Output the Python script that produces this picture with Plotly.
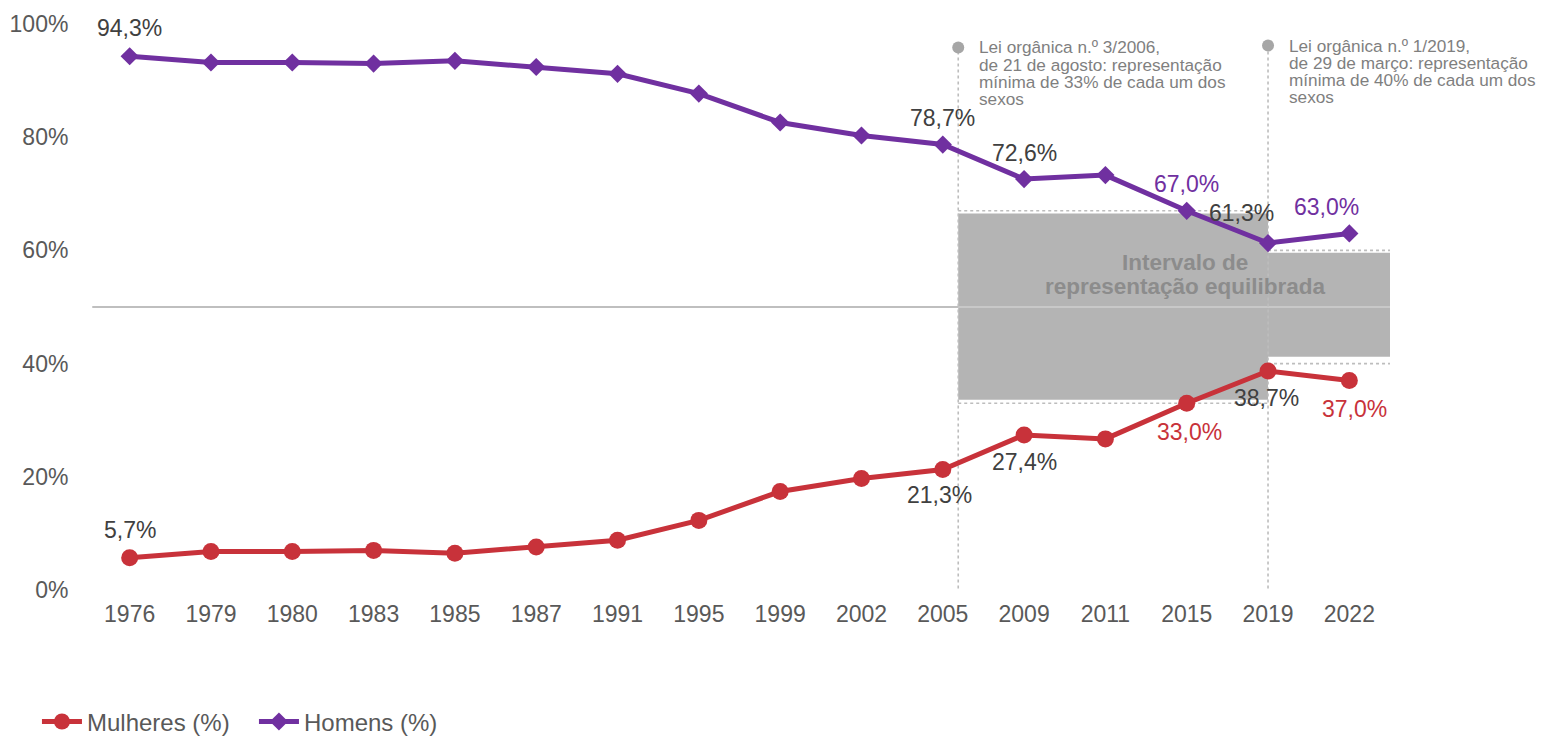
import plotly.graph_objects as go

# ---------------- data ----------------
years = ["1976", "1979", "1980", "1983", "1985", "1987", "1991", "1995",
         "1999", "2002", "2005", "2009", "2011", "2015", "2019", "2022"]
mulheres = [5.7, 6.8, 6.8, 7.0, 6.5, 7.6, 8.8, 12.3,
            17.4, 19.7, 21.3, 27.4, 26.7, 33.0, 38.7, 37.0]
homens = [94.3, 93.2, 93.2, 93.0, 93.5, 92.4, 91.2, 87.7,
          82.6, 80.3, 78.7, 72.6, 73.3, 67.0, 61.3, 63.0]

# labelled points (category index) and style of their labels (dx, dy in px, coloured?)
homens_labels = {0: (0, 28, False), 10: (0, 27, False), 11: (0, 26, False),
                 13: (0, 27, True), 14: (-27, 30, False), 15: (-23, 26, True)}
mulheres_labels = {0: (0, 28, False), 10: (-3, -26, False), 11: (0, -27, False),
                   13: (3, -29, True), 14: (-2, -27, False), 15: (5, -28, True)}

law_positions = [10.19, 14.0]          # category-index positions of the two laws
law_dot_y = [95.85, 96.2]
law_texts = [
    ["Lei orgânica n.º 3/2006,", "de 21 de agosto: representação",
     "mínima de 33% de cada um dos", "sexos"],
    ["Lei orgânica n.º 1/2019,", "de 29 de março: representação",
     "mínima de 40% de cada um dos", "sexos"],
]
# balanced-representation intervals: (x0, x1, low, high)
intervals = [(10.19, 14.0, 33, 67), (14.0, 15.5, 40, 60)]

RED = "#C8323A"
PURPLE = "#7030A0"
DARK = "#404040"
TICK = "#595959"
FONT = "Liberation Sans, Arial, Helvetica, sans-serif"

fig = go.Figure()
fig.add_trace(go.Scatter(
    x=years, y=mulheres, name="Mulheres (%)", mode="lines+markers",
    line=dict(color=RED, width=5), marker=dict(symbol="circle", size=17, color=RED),
    cliponaxis=False))
fig.add_trace(go.Scatter(
    x=years, y=homens, name="Homens (%)", mode="lines+markers",
    line=dict(color=PURPLE, width=5), marker=dict(symbol="diamond", size=14, color=PURPLE),
    cliponaxis=False))

shapes = []
# 50% line left of the interval box
shapes.append(dict(type="line", xref="x", yref="y", x0=-0.46, x1=intervals[0][0], y0=50, y1=50,
                   line=dict(color="#BFBFBF", width=2), layer="below"))
# grey boxes (slightly inset inside the dashed limits)
box_pads = [(0.6, 0.5), (1.2, 0.4)]
for (x0, x1, lo, hi), (plo, phi) in zip(intervals, box_pads):
    shapes.append(dict(type="rect", xref="x", yref="y", x0=x0, x1=x1,
                       y0=lo + plo, y1=hi - phi,
                       fillcolor="#B4B4B4", line=dict(width=0), layer="below"))
    for yv in (lo, hi):
        shapes.append(dict(type="line", xref="x", yref="y", x0=x0, x1=x1 + (0.03 if x1 > 15 else 0),
                           y0=yv, y1=yv, line=dict(color="#BDBDBD", width=1.6, dash="dot"),
                           layer="below"))
# lighter 50% line inside the box
shapes.append(dict(type="line", xref="x", yref="y", x0=intervals[0][0], x1=15.5, y0=50, y1=50,
                   line=dict(color="#CFCFCF", width=1.5), layer="below"))
# vertical law markers
for xp, yd in zip(law_positions, law_dot_y):
    shapes.append(dict(type="line", xref="x", yref="y", x0=xp, x1=xp, y0=-0.8, y1=yd,
                       line=dict(color="#BDBDBD", width=1.6, dash="dot"), layer="below"))
    shapes.append(dict(type="circle", xref="x", yref="y", xsizemode="pixel", ysizemode="pixel",
                       xanchor=xp, yanchor=yd, x0=-6, x1=6, y0=-6, y1=6,
                       fillcolor="#A6A6A6", line=dict(width=0), layer="above"))

annotations = []
# data labels
for series, labels, col in ((homens, homens_labels, PURPLE), (mulheres, mulheres_labels, RED)):
    for i, (dx, dy, coloured) in labels.items():
        v = series[i]
        annotations.append(dict(
            x=i, y=v, xref="x", yref="y", text=f"{v:.1f}".replace(".", ",") + "%",
            showarrow=False, xshift=dx, yshift=dy,
            font=dict(size=23, color=col if coloured else DARK, family=FONT)))
# law notes
for xp, yd, lines in zip(law_positions, law_dot_y, law_texts):
    for k, t in enumerate(lines):
        annotations.append(dict(
            x=xp, y=yd, xref="x", yref="y", text=t, showarrow=False,
            xanchor="left", yanchor="middle", xshift=19, yshift=-17.3 * k,
            font=dict(size=17.2, color="#7F7F7F", family=FONT)))
# interval label
for k, t in enumerate(["Intervalo de", "representação equilibrada"]):
    annotations.append(dict(
        x=12.98, y=50, xref="x", yref="y", text=f"<b>{t}</b>", showarrow=False,
        yshift=45 - 24 * k, font=dict(size=22.5, color="#8C8C8C", family=FONT)))

fig.update_layout(
    width=1550, height=738,
    margin=dict(l=89, r=160, t=23.5, b=148, autoexpand=False),
    paper_bgcolor="white", plot_bgcolor="white",
    font=dict(family=FONT, size=23, color=TICK),
    xaxis=dict(type="category", range=[-0.5, 15.5], showgrid=False, zeroline=False,
               showline=False, ticks="outside", ticklen=3, tickcolor="rgba(0,0,0,0)",
               tickfont=dict(size=23, color=TICK), automargin=False),
    yaxis=dict(range=[0, 100], tickvals=[0, 20, 40, 60, 80, 100],
               ticktext=["0%", "20%", "40%", "60%", "80%", "100%"],
               showgrid=False, zeroline=False, showline=False, ticks="outside",
               ticklen=15, tickcolor="rgba(0,0,0,0)", tickfont=dict(size=23, color=TICK),
               automargin=False),
    legend=dict(orientation="h", x=-0.04, xanchor="left", y=-0.233, yanchor="middle",
                font=dict(size=24, color=TICK), itemwidth=40, traceorder="normal",
                entrywidth=162, entrywidthmode="pixels",
                bgcolor="rgba(0,0,0,0)"),
    shapes=shapes, annotations=annotations,
)

fig.write_html("out.html", config={"displayModeBar": False},
               post_script="document.body.style.margin='0';document.body.style.overflow='hidden';")
